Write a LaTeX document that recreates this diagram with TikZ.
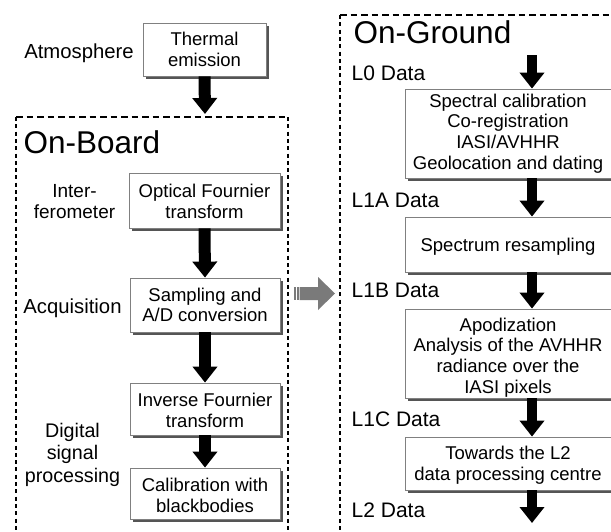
\documentclass[tikz,border=0pt]{standalone}
\usepackage{fontspec}
\setmainfont{Liberation Sans}
\usetikzlibrary{arrows.meta,shadows}
\definecolor{boxline}{RGB}{128,128,128}
\definecolor{boxshadow}{RGB}{85,85,85}
\definecolor{arrowgray}{RGB}{122,122,122}
\newcommand\bodyfont{\fontsize{18.5}{20.7}\selectfont}
\newcommand\titlefont{\fontsize{31.5}{36}\selectfont}
% invisible struts: full ascent on the first line, full descent on the last
\newcommand\tst[1][16.7pt]{\vrule width 0pt height #1 depth 0pt}
\newcommand\bst[1][4pt]{\vrule width 0pt height 0pt depth #1}
\tikzset{
  stage/.style={draw=boxline, line width=0.8pt, fill=white, align=center,
    inner sep=0pt, font=\bodyfont,
    drop shadow={shadow xshift=3pt, shadow yshift=-3pt, fill=boxshadow, opacity=1}},
  side/.style={inner sep=0pt, align=center},
  paneltitle/.style={inner sep=0pt, anchor=base west, font=\titlefont},
  datalbl/.style={inner sep=0pt, anchor=base west, font=\fontsize{21}{24}\selectfont},
  bigflow/.style={line width=12pt, -{Triangle[width=24pt, length=16pt]}},
  gflow/.style={line width=10.5pt, -{Triangle[width=24pt, length=16pt]}},
  frameh/.style={line width=2.8pt, dash pattern=on 6.5pt off 4pt},
  framev/.style={line width=2.8pt, dash pattern=on 4pt off 3.3pt},
}
\begin{document}
\begin{tikzpicture}[x=1pt, y=-1pt]
\useasboundingbox (0,0) rectangle (611,531);
\fill[white] (0,0) rectangle (611,531);
\clip (0,0) rectangle (611,531);

% ---------- source ----------
\node[side, anchor=base, font=\fontsize{20.3}{23}\selectfont] (atm) at (79,58) {Atmosphere};
\node[stage, minimum width=123pt, minimum height=53pt] (therm) at (204.5,49.5)
  {\tst Thermal\\emission\bst};

% ---------- on-board frame ----------
\draw[frameh] (16,117) -- (288,117);
\draw[framev] (16,117) -- (16,545);
\draw[framev] (288,117) -- (288,545);
\node[paneltitle] (ob) at (23.5,153) {On-Board};
\coordinate (obin) at (205,114);

\node[side, font=\fontsize{19}{20.6}\selectfont] (interf) at (74.5,201.5)
  {\tst[17.2pt]Inter-\\ferometer\bst[4pt]};
\node[side, anchor=base, font=\fontsize{20.3}{23}\selectfont] (acq) at (72.5,313) {Acquisition};
\node[side, font=\fontsize{19.7}{22.5}\selectfont] (dsp) at (72.5,452.7)
  {\tst[17.8pt]Digital\\signal\\processing\bst[4.2pt]};

\node[stage, minimum width=151pt, minimum height=55pt] (optical) at (204.5,200.5)
  {\tst[19.3pt]Optical Fournier\\transform\bst};
\node[stage, minimum width=150pt, minimum height=54pt] (sampling) at (205,305)
  {\tst Sampling and\\A/D conversion\bst};
\node[stage, minimum width=150pt, minimum height=52pt] (inverse) at (205,409)
  {\tst[20pt]Inverse Fournier\\transform\bst};
\node[stage, minimum width=150pt, minimum height=51pt] (calib) at (205,493.5)
  {\tst[20.7pt]Calibration with\\blackbodies\bst};

\draw[bigflow] (therm.south) -- (obin);
\draw[bigflow] (optical.south) -- (sampling.north);
\draw[bigflow] (sampling.south) -- (inverse.north);
\draw[bigflow] (inverse.south) -- (calib.north);

% ---------- transfer to ground ----------
\fill[arrowgray] (294,287) rectangle (295.5,300);
\fill[arrowgray] (296.5,287) rectangle (298.5,300);
\fill[arrowgray] (299.5,287) -- (318,287) -- (318,277) -- (335,293.5)
  -- (318,310) -- (318,300) -- (299.5,300) -- cycle;

% ---------- on-ground frame ----------
\draw[frameh] (340,15) -- (620,15);
\draw[framev] (340,15) -- (340,545);
\node[paneltitle] (og) at (353.5,43) {On-Ground};

\node[datalbl] (l0) at (351.5,80) {L0 Data};
\node[datalbl] (l1a) at (351.5,207) {L1A Data};
\node[datalbl] (l1b) at (351.5,297) {L1B Data};
\node[datalbl] (l1c) at (351.5,426) {L1C Data};
\node[datalbl] (l2) at (351.5,517) {L2 Data};

\node[stage, minimum width=206pt, minimum height=89pt] (spec) at (508,133.5)
  {\tst Spectral calibration\\Co-registration\\IASI/AVHHR\\Geolocation and dating\bst[7.6pt]};
\node[stage, minimum width=206pt, minimum height=55pt] (resamp) at (508,244.5)
  {\tst[18.3pt]Spectrum resampling\bst};
\node[stage, minimum width=206pt, minimum height=89pt] (apod) at (508,353.5)
  {\tst[21.1pt]Apodization\\Analysis of the AVHHR\\radiance over the\\IASI pixels\bst};
\node[stage, minimum width=206pt, minimum height=53pt] (towards) at (508,463.5)
  {\tst Towards the L2\\data processing centre\bst};

\coordinate (ax) at (532,0);
\coordinate (l0top) at (532,55);
\coordinate (l2end) at (532,523);
\draw[gflow] (l0top) -- (spec.north -| ax);
\draw[gflow] (spec.south -| ax) -- (resamp.north -| ax);
\draw[gflow] (resamp.south -| ax) -- (apod.north -| ax);
\draw[gflow] (apod.south -| ax) -- (towards.north -| ax);
\draw[gflow] (towards.south -| ax) -- (l2end);
\end{tikzpicture}
\end{document}
